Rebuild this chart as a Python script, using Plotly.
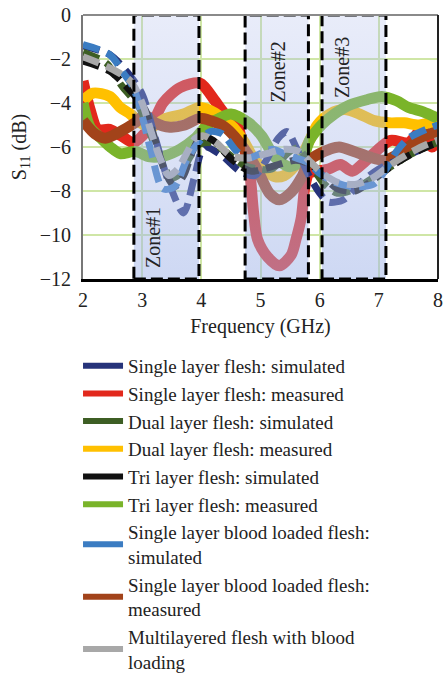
import plotly.graph_objects as go

# ---------------- data ----------------
X_RANGE = [2, 8]
Y_RANGE = [-12, 0]
X_TICKS = [2, 3, 4, 5, 6, 7, 8]
Y_TICKS = [0, -2, -4, -6, -8, -10, -12]

SERIES_NAMES = [
    "Single layer flesh: simulated",
    "Single layer flesh: measured",
    "Dual layer flesh: simulated",
    "Dual layer flesh: measured",
    "Tri layer flesh: simulated",
    "Tri layer flesh: measured",
    "Single layer blood loaded flesh:<br>simulated",
    "Single layer blood loaded flesh:<br>measured",
    "Multilayered flesh with blood<br>loading",
]

single_sim_x = [2.0, 2.45, 2.75, 3.0, 3.2, 3.45, 3.7, 3.88, 4.05, 4.35, 4.65, 4.9, 5.1, 5.3, 5.45, 5.6, 5.8, 6.0, 6.15, 6.4, 6.7, 7.0, 7.4, 7.8, 8.0]
single_sim_y = [-1.4, -1.8, -2.6, -3.6, -5.4, -7.6, -9.0, -7.4, -6.0, -6.4, -7.1, -7.3, -6.6, -5.6, -5.3, -6.0, -7.2, -8.1, -8.5, -8.4, -7.6, -7.0, -6.5, -6.0, -5.8]

single_meas_x = [2.0, 2.12, 2.25, 2.45, 2.65, 2.85, 3.0, 3.2, 3.35, 3.64, 3.98, 4.23, 4.4, 4.57, 4.73, 4.82, 4.88, 4.95, 5.12, 5.32, 5.52, 5.6, 5.69, 5.75, 5.82, 5.95, 6.15, 6.35, 6.55, 6.75, 6.95, 7.2, 7.5, 7.73, 7.9, 8.0]
single_meas_y = [-3.0, -4.3, -5.2, -5.2, -5.5, -5.8, -5.5, -4.8, -4.0, -3.3, -3.1, -3.9, -4.5, -4.8, -6.1, -7.2, -8.9, -10.2, -11.0, -11.4, -10.9, -10.2, -9.2, -7.8, -7.2, -7.1, -7.0, -6.8, -7.1, -6.7, -6.2, -5.7, -5.8, -5.2, -6.0, -5.7]

dual_sim_x = [2.0, 2.4, 2.65, 2.95, 3.15, 3.35, 3.5, 3.65, 3.8, 3.95, 4.15, 4.4, 4.7, 4.95, 5.19, 5.45, 5.62, 5.85, 6.05, 6.3, 6.6, 6.9, 7.2, 7.5, 7.8, 8.0]
dual_sim_y = [-1.7, -2.2, -3.2, -4.2, -5.5, -6.8, -7.4, -7.2, -6.5, -5.9, -5.8, -6.2, -6.8, -7.0, -7.0, -6.3, -6.05, -6.8, -7.6, -8.1, -7.9, -7.4, -6.9, -6.4, -6.0, -5.8]

dual_meas_x = [2.0, 2.17, 2.45, 2.63, 2.8, 2.97, 3.15, 3.4, 3.7, 3.98, 4.23, 4.57, 4.73, 4.9, 5.07, 5.24, 5.4, 5.57, 5.7, 5.83, 5.96, 6.17, 6.42, 6.67, 6.92, 7.17, 7.43, 7.68, 8.0]
dual_meas_y = [-3.9, -3.55, -3.7, -4.2, -4.5, -4.9, -5.1, -4.7, -4.5, -4.2, -4.45, -5.2, -5.8, -6.6, -7.05, -7.35, -7.3, -6.9, -6.4, -5.7, -5.0, -4.5, -4.3, -4.5, -4.8, -4.9, -4.9, -5.0, -4.8]

tri_sim_x = [2.0, 2.45, 2.85, 3.05, 3.2, 3.4, 3.55, 3.7, 3.85, 4.0, 4.2, 4.45, 4.68, 4.85, 5.05, 5.3, 5.6, 5.85, 6.05, 6.3, 6.6, 6.9, 7.2, 7.5, 7.8, 8.0]
tri_sim_y = [-2.1, -2.55, -3.6, -4.3, -5.5, -7.2, -7.8, -7.3, -6.2, -5.5, -5.7, -6.4, -6.9, -7.1, -7.0, -6.8, -6.6, -6.8, -7.3, -7.9, -8.0, -7.5, -6.9, -6.4, -6.0, -5.8]

tri_meas_x = [2.0, 2.12, 2.3, 2.46, 2.63, 2.88, 3.13, 3.38, 3.64, 3.9, 4.1, 4.3, 4.5, 4.8, 5.02, 5.24, 5.5, 5.7, 5.83, 6.03, 6.25, 6.5, 6.8, 7.05, 7.3, 7.5, 7.75, 8.0]
tri_meas_y = [-4.0, -5.1, -5.6, -6.0, -6.3, -6.2, -6.45, -6.4, -6.1, -5.6, -5.0, -4.7, -4.5, -4.9, -5.5, -6.45, -6.9, -6.6, -5.7, -5.0, -4.5, -4.1, -3.85, -3.7, -3.9, -4.2, -4.4, -4.7]

blood_sim_x = [2.0, 2.45, 2.7, 2.85, 3.0, 3.15, 3.35, 3.55, 3.75, 3.95, 4.15, 4.35, 4.6, 4.8, 5.0, 5.2, 5.4, 5.6, 5.8, 6.0, 6.25, 6.55, 6.9, 7.1, 7.3, 7.5, 7.8, 8.0]
blood_sim_y = [-1.35, -1.8, -2.7, -3.3, -4.6, -6.2, -7.9, -7.8, -6.6, -5.8, -5.3, -5.4, -6.2, -6.5, -6.3, -6.1, -6.3, -6.5, -6.7, -7.2, -7.6, -7.8, -7.7, -7.1, -6.2, -5.6, -5.2, -5.0]

blood_meas_x = [2.0, 2.2, 2.38, 2.63, 2.88, 3.05, 3.22, 3.47, 3.72, 3.97, 4.15, 4.4, 4.57, 4.78, 4.95, 5.15, 5.32, 5.52, 5.7, 5.83, 6.0, 6.17, 6.33, 6.58, 6.84, 7.09, 7.34, 7.6, 7.76, 8.0]
blood_meas_y = [-4.8, -5.4, -5.6, -5.3, -4.9, -4.55, -4.9, -5.1, -5.0, -4.7, -4.8, -5.1, -5.55, -6.3, -7.05, -8.1, -8.4, -8.05, -7.35, -6.6, -6.3, -6.1, -6.0, -6.2, -6.45, -6.6, -6.3, -5.8, -5.5, -5.3]

multi_x = [2.0, 2.45, 2.8, 3.0, 3.15, 3.3, 3.45, 3.6, 3.75, 3.9, 4.05, 4.25, 4.5, 4.8, 5.1, 5.4, 5.65, 5.85, 6.05, 6.3, 6.6, 6.9, 7.2, 7.5, 7.8, 8.0]
multi_y = [-1.9, -2.4, -3.0, -4.0, -5.3, -6.5, -7.3, -7.0, -6.3, -5.6, -5.5, -5.8, -6.4, -6.5, -6.3, -6.1, -6.2, -6.7, -7.2, -7.6, -7.7, -7.4, -6.8, -6.3, -5.9, -5.7]

ZONE_NAMES = ["Zone#1", "Zone#2", "Zone#3"]
ZONE_START = [2.86, 4.74, 6.04]
ZONE_END = [3.96, 5.81, 7.12]
ZONE_LABEL_X = [3.18, 5.30, 6.38]
ZONE_LABEL_Y = [-10.1, -2.6, -2.4]

# ---------------- styles ----------------
COLORS = ["#26337a", "#e2281c", "#3d5e24", "#ffc000", "#111111",
          "#7ab42a", "#3b7cc2", "#a2431a", "#a8a8a8"]
SIMULATED = [True, False, True, False, True, False, True, False, True]
SERIES = [
    (single_sim_x, single_sim_y), (single_meas_x, single_meas_y),
    (dual_sim_x, dual_sim_y), (dual_meas_x, dual_meas_y),
    (tri_sim_x, tri_sim_y), (tri_meas_x, tri_meas_y),
    (blood_sim_x, blood_sim_y), (blood_meas_x, blood_meas_y),
    (multi_x, multi_y),
]
FONT = "Liberation Serif, Times New Roman, serif"

fig = go.Figure()

# measured first, simulated on top
draw_order = [1, 3, 5, 7, 0, 2, 4, 6, 8]
for i in draw_order:
    xs, ys = SERIES[i]
    if SIMULATED[i]:
        line = dict(color=COLORS[i], width=7, dash="17px,8px", shape="spline", smoothing=0.8)
    else:
        line = dict(color=COLORS[i], width=11, shape="spline", smoothing=0.8)
    fig.add_trace(go.Scatter(x=xs, y=ys, mode="lines", line=line,
                             showlegend=False, hoverinfo="skip"))

# legend entries
for i, name in enumerate(SERIES_NAMES):
    fig.add_trace(go.Scatter(x=[None], y=[None], mode="lines", name=name,
                             line=dict(color=COLORS[i], width=6)))

# zone overlays (translucent, above curves)
for z0, z1 in zip(ZONE_START, ZONE_END):
    fig.add_trace(go.Scatter(
        x=[z0, z1, z1, z0, z0], y=[Y_RANGE[0], Y_RANGE[0], Y_RANGE[1], Y_RANGE[1], Y_RANGE[0]],
        mode="none", fill="toself",
        fillgradient=dict(type="vertical", start=Y_RANGE[0], stop=Y_RANGE[1],
                          colorscale=[[0, "rgba(160,180,232,0.52)"], [1, "rgba(175,188,235,0.28)"]]),
        showlegend=False, hoverinfo="skip"))
    fig.add_shape(type="rect", xref="x", yref="y", x0=z0, x1=z1, y0=Y_RANGE[0], y1=Y_RANGE[1],
                  line=dict(color="black", width=3, dash="12px,5px"), fillcolor="rgba(0,0,0,0)",
                  layer="above")

for name, lx, ly in zip(ZONE_NAMES, ZONE_LABEL_X, ZONE_LABEL_Y):
    fig.add_annotation(x=lx, y=ly, xref="x", yref="y", text=name, showarrow=False,
                       textangle=-90, font=dict(family=FONT, size=20, color="#222"))

# frame: top gray, right black
fig.add_shape(type="line", xref="paper", yref="paper", x0=0, x1=1, y0=1, y1=1,
              line=dict(color="#8a8a8a", width=2), layer="above")
fig.add_shape(type="line", xref="paper", yref="paper", x0=1, x1=1, y0=0, y1=1,
              line=dict(color="#222", width=2), layer="above")

fig.update_layout(
    width=443, height=676,
    margin=dict(l=83, r=5, t=15, b=397, autoexpand=False),
    paper_bgcolor="white", plot_bgcolor="white",
    font=dict(family=FONT, size=20, color="#222"),
    showlegend=True,
    legend=dict(x=-0.014, y=-0.257, xanchor="left", yanchor="top",
                font=dict(family=FONT, size=19, color="#222"),
                itemwidth=40, tracegroupgap=0, bgcolor="rgba(0,0,0,0)",
                maxheight=400),
    xaxis=dict(range=X_RANGE, tickvals=X_TICKS, showgrid=True, gridcolor="#cfe6a6", gridwidth=1.5,
               showline=True, linecolor="black", linewidth=3, zeroline=False,
               ticks="outside", ticklen=1, tickcolor="rgba(0,0,0,0)",
               tickfont=dict(family=FONT, size=20),
               title=dict(text="Frequency (GHz)", font=dict(family=FONT, size=20), standoff=9)),
    yaxis=dict(range=Y_RANGE, tickvals=Y_TICKS, showgrid=True, gridcolor="#cfe6a6", gridwidth=1.5,
               showline=True, linecolor="#777", linewidth=2, zeroline=False,
               ticks="outside", ticklen=6, tickcolor="rgba(0,0,0,0)",
               tickfont=dict(family=FONT, size=20),
               title=dict(text="S<sub>11</sub> (dB)", font=dict(family=FONT, size=20), standoff=8)),
)

fig.write_html("out.html")
